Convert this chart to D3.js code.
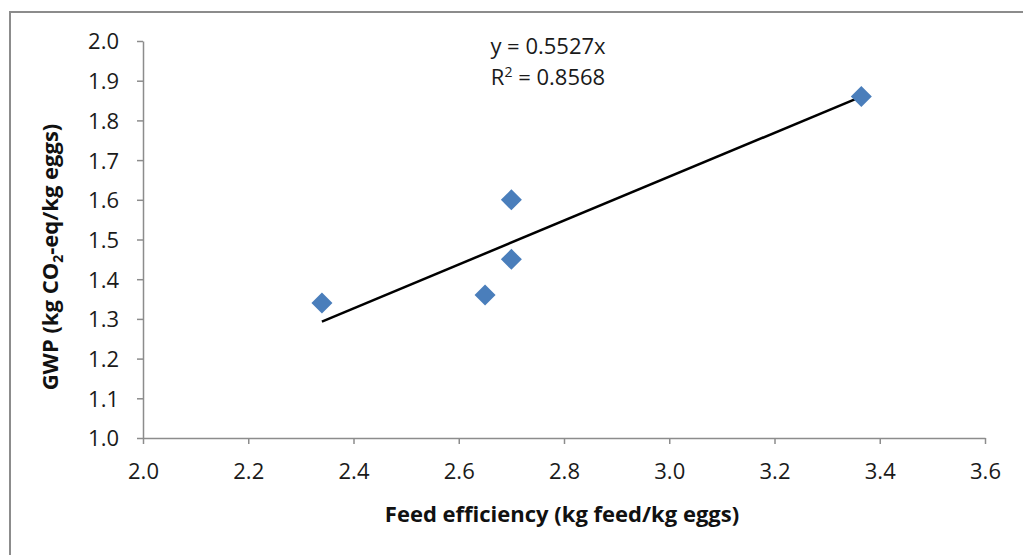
<!DOCTYPE html>
<html><head><meta charset="utf-8">
<script src="https://cdn.jsdelivr.net/npm/d3@7"></script>
<style>body{margin:0;background:#fff}svg{display:block}text{font-family:"Open Sans",sans-serif}</style>
</head><body>
<svg id="c" width="1023" height="555"></svg>
<script>
const feedEfficiency = [2.34, 2.65, 2.70, 2.70, 3.365];
const gwp = [1.34, 1.36, 1.60, 1.45, 1.86];
const slope = 0.5527;
const r2 = 0.8568;
const xTicks = [2.0, 2.2, 2.4, 2.6, 2.8, 3.0, 3.2, 3.4, 3.6];
const yTicks = [1.0, 1.1, 1.2, 1.3, 1.4, 1.5, 1.6, 1.7, 1.8, 1.9, 2.0];

const svg = d3.select("#c");
svg.append("path").attr("d","M10,555 V12 H1023").attr("fill","none").attr("stroke","#8c8c8c").attr("stroke-width",2);

const x = d3.scaleLinear().domain([2.0,3.6]).range([143,985]);
const y = d3.scaleLinear().domain([1.0,2.0]).range([438,41]);

const xAxis = svg.append("g").attr("transform","translate(0,438)")
  .call(d3.axisBottom(x).tickValues(xTicks).tickFormat(d3.format(".1f")).tickSize(6).tickSizeOuter(0));
const yAxis = svg.append("g").attr("transform","translate(143,0)")
  .call(d3.axisLeft(y).tickValues(yTicks).tickFormat(d3.format(".1f")).tickSize(6).tickSizeOuter(0));
[xAxis,yAxis].forEach(a=>{
  a.select(".domain").attr("stroke","#8c8c8c").attr("stroke-width",1.5);
  a.selectAll(".tick line").attr("stroke","#8c8c8c").attr("stroke-width",1.5);
  a.selectAll(".tick text").attr("fill","#1a1a1a").style("font-size","22px");
});
xAxis.selectAll(".tick text").attr("y",25).attr("dy","0.71em");
yAxis.selectAll(".tick text").attr("x",-24).attr("dy","0.36em");

const xMin = d3.min(feedEfficiency), xMax = d3.max(feedEfficiency);
svg.append("line").attr("x1",x(xMin)).attr("y1",y(slope*xMin)).attr("x2",x(xMax)).attr("y2",y(slope*xMax))
  .attr("stroke","#000").attr("stroke-width",2.5);

const pts = feedEfficiency.map((v,i)=>({x:v,y:gwp[i]}));
svg.selectAll("path.pt").data(pts).enter().append("path").attr("class","pt")
  .attr("transform",d=>`translate(${x(d.x)},${y(d.y)})`)
  .attr("d","M0,-10.5 L10.5,0 L0,10.5 L-10.5,0 Z").attr("fill","#4a7ebb");

svg.append("text").attr("x",548).attr("y",54).attr("text-anchor","middle").style("font-size","22px").attr("fill","#1a1a1a")
  .text(`y = ${slope}x`);
const t2 = svg.append("text").attr("x",548).attr("y",85).attr("text-anchor","middle").style("font-size","22px").attr("fill","#1a1a1a");
t2.append("tspan").text("R");
t2.append("tspan").attr("dy",-8).style("font-size","14px").text("2");
t2.append("tspan").attr("dy",8).text(` = ${r2}`);

svg.append("text").attr("x",562).attr("y",522).attr("text-anchor","middle").style("font-size","22px").style("font-weight","bold").attr("fill","#111")
  .text("Feed efficiency (kg feed/kg eggs)");
const yt = svg.append("text").attr("transform","translate(58,257) rotate(-90)").attr("text-anchor","middle").style("font-size","22px").style("font-weight","bold").attr("fill","#111");
yt.append("tspan").text("GWP (kg CO");
yt.append("tspan").attr("dy",5).style("font-size","14px").text("2");
yt.append("tspan").attr("dy",-5).text("-eq/kg eggs)");
</script>
</body></html>
